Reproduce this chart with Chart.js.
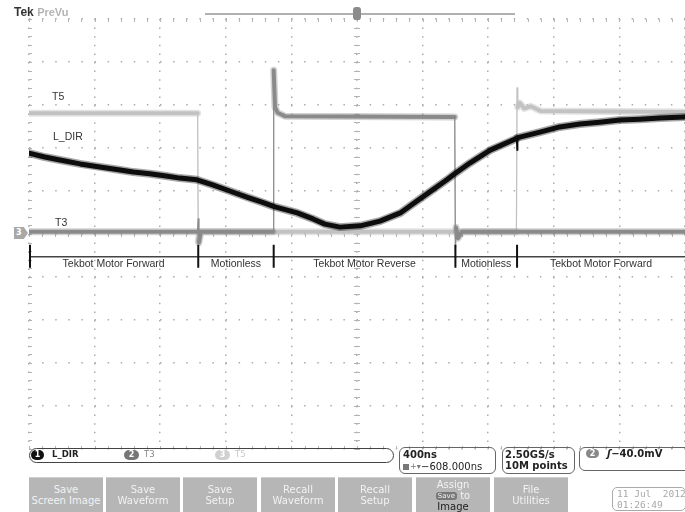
<!DOCTYPE html>
<html>
<head>
<meta charset="utf-8">
<script src="https://cdn.jsdelivr.net/npm/chart.js@4.4.1/dist/chart.umd.min.js"></script>
<style>
  body { margin: 0; background: #fff; width: 685px; height: 512px; overflow: hidden; position: relative; font-family: "Liberation Sans", Arial, sans-serif; }
  #scope { position: absolute; left: 0; top: 0; }
  .abs { position: absolute; white-space: nowrap; }
  .lbl { font-size: 10.5px; line-height: 12px; color: #333; }
  .pill { position: absolute; height: 10px; border-radius: 5px; color: #fff; font: bold 8px/10px "DejaVu Sans", sans-serif; text-align: center; }
  .box { position: absolute; border: 1px solid #666; border-radius: 6px; font-family: "DejaVu Sans", sans-serif; }
  .btn { position: absolute; top: 477px; height: 40px; width: 74px; background: #b6b6b6; border-top: 1px solid #cfcfcf;
         color: #f2f2f2; font: 10px/11px "DejaVu Sans", sans-serif; text-align: center; padding-top: 6px; box-sizing: border-box; }
</style>
</head>
<body>
<canvas id="scope" width="685" height="512"></canvas>

<!-- header -->
<div class="abs" style="left:14px;top:5px;font:bold 12px/14px 'Liberation Sans',Arial,sans-serif;color:#333">Tek <span style="color:#b4b4b4;font-size:11px">PreVu</span></div>
<div class="abs" style="left:205px;top:13px;width:310px;height:2px;background:#b0b0b0"></div>
<div class="abs" style="left:353px;top:7px;width:8px;height:13px;border-radius:3px;background:#8c8c8c"></div>

<!-- ground marker -->
<div class="abs" style="left:14px;top:227px;width:14px;height:12px;background:#a8a8a8;clip-path:polygon(0 0,70% 0,100% 50%,70% 100%,0 100%);color:#fff;font:bold 8px/12px 'DejaVu Sans',sans-serif;text-indent:2px">3</div>

<!-- trace labels -->
<div class="abs lbl" style="left:52px;top:90px">T5</div>
<div class="abs lbl" style="left:53px;top:130px">L_DIR</div>
<div class="abs lbl" style="left:55px;top:216px">T3</div>

<!-- channel readout -->
<div class="box" style="left:29px;top:448px;width:363px;height:13px;border-radius:8px;border-color:#444"></div>
<div class="pill" style="left:31px;top:450px;width:13px;background:#111">1</div>
<div class="abs" style="left:52px;top:449px;font:bold 8.5px/11px 'DejaVu Sans',sans-serif;color:#222">L_DIR</div>
<div class="pill" style="left:124px;top:450px;width:15px;background:#777">2</div>
<div class="abs" style="left:144px;top:449px;font:8.5px/11px 'DejaVu Sans',sans-serif;color:#888">T3</div>
<div class="pill" style="left:215px;top:450px;width:15px;background:#d0d0d0">3</div>
<div class="abs" style="left:235px;top:449px;font:8.5px/11px 'DejaVu Sans',sans-serif;color:#c8c8c8">T5</div>

<div class="box" style="left:399px;top:447px;width:95px;height:25px"></div>
<div class="abs" style="left:403px;top:449px;font:bold 10px/12px 'DejaVu Sans',sans-serif;color:#222">400ns</div>
<div class="abs" style="left:403px;top:464px;width:6px;height:6px;background:#777"></div>
<div class="abs" style="left:410px;top:461px;font:8px/12px 'DejaVu Sans',sans-serif;color:#777">+▾</div>
<div class="abs" style="left:421px;top:461px;font:10px/12px 'DejaVu Sans',sans-serif;color:#222">−608.000ns</div>

<div class="box" style="left:502px;top:447px;width:71px;height:25px"></div>
<div class="abs" style="left:505px;top:449px;font:bold 10px/12px 'DejaVu Sans',sans-serif;color:#222">2.50GS/s</div>
<div class="abs" style="left:505px;top:460px;font:bold 10px/12px 'DejaVu Sans',sans-serif;color:#222">10M points</div>

<div class="box" style="left:579px;top:447px;width:120px;height:22px"></div>
<div class="pill" style="left:586px;top:449px;width:13px;height:9px;background:#888;line-height:9px">2</div>
<div class="abs" style="left:607px;top:448px;font:bold 10px/12px 'DejaVu Sans',sans-serif;color:#222"><i>ʃ</i>−40.0mV</div>

<!-- soft buttons -->
<div class="btn" style="left:29px">Save<br>Screen Image</div>
<div class="btn" style="left:106px">Save<br>Waveform</div>
<div class="btn" style="left:183px">Save<br>Setup</div>
<div class="btn" style="left:261px">Recall<br>Waveform</div>
<div class="btn" style="left:338px">Recall<br>Setup</div>
<div class="btn" style="left:416px;padding-top:1px">Assign<br><span style="display:inline-block;background:#777;border-radius:3px;font-size:7px;line-height:8px;padding:0 2px;vertical-align:1px">Save</span> to<br><span style="color:#222">Image</span></div>
<div class="btn" style="left:494px">File<br>Utilities</div>

<div class="box" style="left:612px;top:487px;width:72px;height:22px;border-color:#aaa;border-radius:5px"></div>
<div class="abs" style="left:617px;top:488px;font:9.5px/11px 'DejaVu Sans Mono',monospace;color:#a8a8a8;white-space:pre">11 Jul  2012<br>01:26:49</div>

<script>
// horizontal axis in screen divisions (400 ns/div), vertical in divisions from centre
const lDirX = [0, 0.24, 0.47, 0.78, 1.08, 1.39, 1.59, 1.84, 2.09, 2.30, 2.56, 2.80, 3.06, 3.32, 3.55, 3.75,
               4.09, 4.33, 4.51, 4.74, 5.05, 5.35, 5.66, 5.85, 6.11, 6.37, 6.49, 6.72, 7.03, 7.43, 7.44, 7.45,
               7.79, 8.09, 8.40, 8.70, 9.01, 9.31, 9.62, 10];
const lDirY = [1.88, 1.79, 1.72, 1.63, 1.56, 1.49, 1.44, 1.40, 1.35, 1.30, 1.26, 1.14, 1.00, 0.86, 0.74, 0.63,
               0.49, 0.35, 0.23, 0.16, 0.19, 0.30, 0.49, 0.70, 0.98, 1.26, 1.40, 1.65, 1.95, 2.22, 1.95, 2.24,
               2.37, 2.49, 2.56, 2.60, 2.65, 2.67, 2.70, 2.72];

const t5X = [0, 2.57, 2.58, 2.60, 7.43, 7.44, 7.45, 7.48, 7.55, 7.65, 7.80, 10];
const t5Y = [2.81, 2.81, -0.15, 0.05, 0.05, 3.40, 2.95, 3.05, 2.92, 2.97, 2.86, 2.84];

const t3X = [0, 2.57, 2.58, 2.59, 2.62, 3.72, 3.73, 3.75, 3.79, 3.90, 6.49, 6.50, 6.51, 6.54, 6.60, 10];
const t3Y = [0.05, 0.05, 0.35, -0.2, 0.05, 0.05, 3.81, 2.95, 2.82, 2.74, 2.72, -0.40, 0.15, -0.10, 0.05, 0.05];

const segmentEdges = [0, 2.58, 3.73, 6.50, 7.44, 10];
const segmentLabels = ['Tekbot Motor Forward', 'Motionless', 'Tekbot Motor Reverse', 'Motionless', 'Tekbot Motor Forward'];
const bracketLevel = -0.53;

const toPoints = (xs, ys) => xs.map((x, i) => ({ x: x, y: ys[i] }));

// fast edges are thin on the scope, flat stretches are a fuzzy band
function trace(data, color, width, order) {
    return {
        data: data, borderColor: color, borderWidth: width, pointRadius: 0, tension: 0,
        borderJoinStyle: 'round', borderCapStyle: 'round', order: order,
        segment: { borderWidth: c => Math.abs(c.p1.parsed.x - c.p0.parsed.x) < 0.02 ? 1.2 : width }
    };
}

const graticuleTicks = {
    id: 'graticuleTicks',
    beforeDatasetsDraw(chart) {
        const { ctx, chartArea: a, scales: { x, y } } = chart;
        const cx = x.getPixelForValue(5), cy = y.getPixelForValue(0);
        ctx.save();
        ctx.strokeStyle = '#b4b4b4';
        ctx.lineWidth = 1;
        ctx.beginPath();
        for (let i = 0; i <= 50; i++) {
            const px = Math.round(x.getPixelForValue(i / 5)) + 0.5;
            ctx.moveTo(px, cy - 3); ctx.lineTo(px, cy + 3);
            ctx.moveTo(px, a.top); ctx.lineTo(px, a.top + 3);
            ctx.moveTo(px, a.bottom - 3); ctx.lineTo(px, a.bottom);
        }
        for (let i = -25; i <= 25; i++) {
            const py = Math.round(y.getPixelForValue(i / 5)) + 0.5;
            ctx.moveTo(cx - 3, py); ctx.lineTo(cx + 3, py);
            ctx.moveTo(a.left, py); ctx.lineTo(a.left + 3, py);
        }
        ctx.stroke();
        ctx.restore();
    }
};

const stateBracket = {
    id: 'stateBracket',
    afterDatasetsDraw(chart) {
        const { ctx, scales: { x, y } } = chart;
        const by = y.getPixelForValue(bracketLevel);
        ctx.save();
        ctx.strokeStyle = '#444';
        ctx.lineWidth = 1.5;
        ctx.beginPath();
        ctx.moveTo(x.getPixelForValue(segmentEdges[0]), by);
        ctx.lineTo(x.getPixelForValue(segmentEdges[segmentEdges.length - 1]), by);
        ctx.stroke();
        ctx.strokeStyle = '#111';
        ctx.lineWidth = 2;
        ctx.beginPath();
        segmentEdges.slice(0, -1).forEach(v => {
            const px = x.getPixelForValue(v) + (v === 0 ? 1 : 0);
            ctx.moveTo(px, by - 12); ctx.lineTo(px, by + 11);
        });
        ctx.stroke();
        ctx.fillStyle = '#333';
        ctx.font = '10.5px "Liberation Sans", Arial, sans-serif';
        ctx.textAlign = 'center';
        ctx.textBaseline = 'middle';
        segmentLabels.forEach((s, i) => {
            const mid = (x.getPixelForValue(segmentEdges[i]) + x.getPixelForValue(segmentEdges[i + 1])) / 2;
            ctx.fillText(s, mid, by + 7);
        });
        ctx.restore();
    }
};

const dotGrid = (dash) => ({
    grid: { color: '#acacac', lineWidth: 1.5, drawTicks: false },
    border: { display: false, dash: dash },
    ticks: { display: false, stepSize: 1 }
});

new Chart(document.getElementById('scope'), {
    type: 'line',
    data: {
        datasets: [
            trace(toPoints(lDirX, lDirY), '#0d0d0d', 5, 0),
            trace(toPoints(lDirX, lDirY), 'rgba(0,0,0,0.35)', 8, 1),
            trace(toPoints(t3X, t3Y), '#8a8a8a', 4, 2),
            trace(toPoints(t3X, t3Y), 'rgba(130,130,130,0.35)', 7, 3),
            trace(toPoints(t5X, t5Y), '#c2c2c2', 4, 4),
            trace(toPoints(t5X, t5Y), 'rgba(195,195,195,0.45)', 7, 5)
        ]
    },
    options: {
        responsive: false,
        animation: false,
        devicePixelRatio: 1,
        layout: { padding: { left: 29, top: 19, right: 0, bottom: 63 } },
        scales: {
            x: Object.assign({ type: 'linear', min: 0, max: 10 }, dotGrid([1.5, 7.1])),
            y: Object.assign({ type: 'linear', min: -5, max: 5 }, dotGrid([1.5, 11.6]))
        },
        plugins: { legend: { display: false }, tooltip: { enabled: false } }
    },
    plugins: [graticuleTicks, stateBracket]
});
</script>
</body>
</html>
